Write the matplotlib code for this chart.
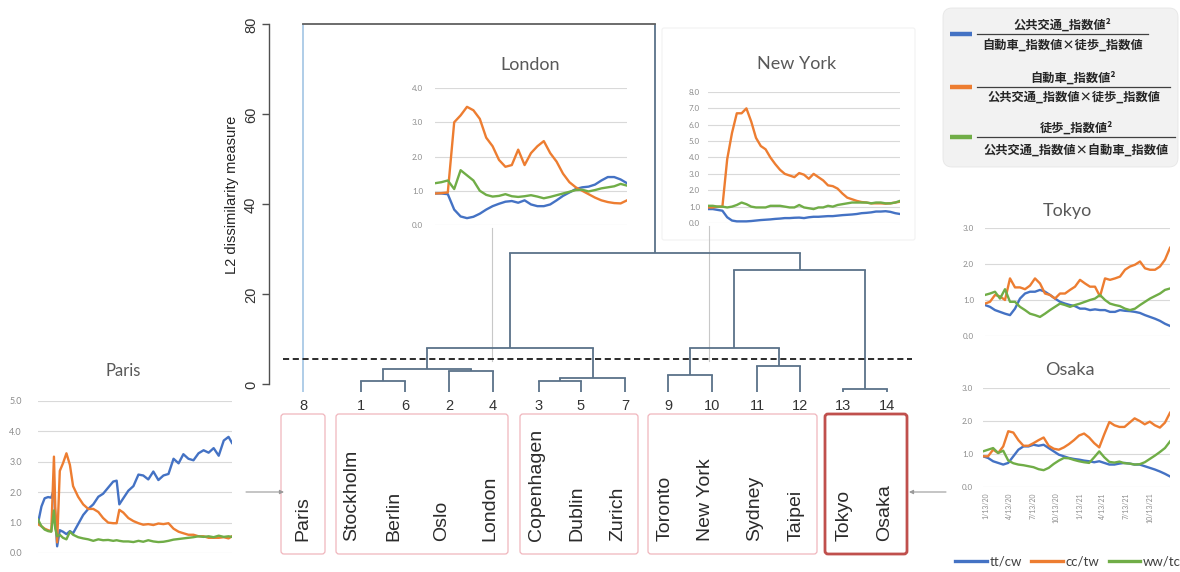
import numpy as np
import matplotlib
matplotlib.use("Agg")
import matplotlib.pyplot as plt
from matplotlib.patches import FancyBboxPatch
from matplotlib.lines import Line2D

# ---------------- data ----------------
leaf_labels = ['8', '1', '6', '2', '4', '3', '5', '7', '9', '10', '11', '12', '13', '14']
cities = ['Paris', 'Stockholm', 'Berlin', 'Oslo', 'London', 'Copenhagen', 'Dublin', 'Zurich',
          'Toronto', 'New York', 'Sydney', 'Taipei', 'Tokyo', 'Osaka']
# (child a, child b, merge height); ints refer to earlier merges
merges = [('1', '6', 0.85), ('3', '5', 0.85), ('13', '14', -1.0), (1, '7', 1.35),
          ('9', '10', 2.2), ('2', '4', 3.05), (0, 5, 3.5), ('11', '12', 4.1),
          (6, 3, 8.05), (4, 7, 8.1), (9, 2, 25.4), (8, 10, 29.15), ('8', 11, 80.0)]
cut_height = 5.75
leaf_floor = -1.65
y_ticks = [0, 20, 40, 60, 80]

series_names = ['tt/cw', 'cc/tw', 'ww/tc']

lon_tt = [0.92, 0.92, 0.90, 0.45, 0.25, 0.20, 0.24, 0.33, 0.45, 0.55, 0.62, 0.68, 0.70, 0.65, 0.72, 0.60,
          0.55, 0.55, 0.60, 0.72, 0.85, 0.95, 1.05, 1.10, 1.12, 1.18, 1.30, 1.40, 1.40, 1.33, 1.22]
lon_cc = [0.92, 0.93, 0.95, 3.00, 3.20, 3.45, 3.35, 3.10, 2.55, 2.30, 1.90, 1.70, 1.75, 2.20, 1.75, 2.10,
          2.30, 2.45, 2.10, 1.85, 1.50, 1.25, 1.10, 1.00, 0.90, 0.80, 0.72, 0.67, 0.64, 0.63, 0.72]
lon_ww = [1.22, 1.25, 1.30, 1.05, 1.60, 1.45, 1.30, 1.00, 0.88, 0.83, 0.85, 0.90, 0.84, 0.82, 0.84, 0.87,
          0.83, 0.78, 0.82, 0.87, 0.92, 0.97, 1.02, 1.03, 0.98, 1.02, 1.07, 1.10, 1.13, 1.20, 1.15]

ny_tt = [0.85, 0.85, 0.80, 0.75, 0.35, 0.15, 0.10, 0.10, 0.10, 0.12, 0.15, 0.18, 0.20, 0.22, 0.25, 0.27,
         0.30, 0.30, 0.32, 0.33, 0.30, 0.35, 0.38, 0.38, 0.40, 0.42, 0.42, 0.45, 0.48, 0.50, 0.52, 0.55,
         0.60, 0.62, 0.65, 0.70, 0.70, 0.72, 0.68, 0.60, 0.55]
ny_cc = [0.95, 0.95, 1.00, 1.00, 3.90, 5.50, 6.70, 6.70, 7.00, 6.20, 5.20, 4.70, 4.50, 4.00, 3.60, 3.25,
         3.00, 2.90, 2.80, 3.05, 2.95, 2.70, 3.00, 2.80, 2.60, 2.30, 2.25, 2.10, 1.80, 1.55, 1.45, 1.35,
         1.28, 1.25, 1.20, 1.20, 1.20, 1.18, 1.20, 1.25, 1.30]
ny_ww = [1.05, 1.05, 1.00, 1.00, 0.95, 1.00, 1.10, 1.25, 1.15, 1.00, 0.95, 0.95, 0.95, 1.05, 1.05, 1.05,
         1.00, 0.95, 0.95, 1.10, 0.95, 0.90, 0.85, 0.95, 0.95, 1.05, 1.00, 1.10, 1.15, 1.20, 1.25, 1.25,
         1.25, 1.25, 1.20, 1.25, 1.25, 1.20, 1.20, 1.25, 1.35]

tky_tt = [0.86, 0.81, 0.72, 0.67, 0.62, 0.58, 0.76, 1.04, 1.18, 1.23, 1.23, 1.28, 1.23, 1.14, 1.04, 0.95,
          0.90, 0.86, 0.83, 0.76, 0.76, 0.72, 0.74, 0.72, 0.72, 0.67, 0.67, 0.72, 0.70, 0.69, 0.67, 0.64,
          0.58, 0.53, 0.48, 0.42, 0.34, 0.28]
tky_cc = [0.90, 0.95, 1.14, 1.10, 1.00, 1.60, 1.35, 1.35, 1.30, 1.40, 1.60, 1.46, 1.18, 1.14, 1.04, 1.18,
          1.18, 1.28, 1.37, 1.56, 1.46, 1.37, 1.37, 1.10, 1.60, 1.56, 1.60, 1.65, 1.84, 1.93, 1.98, 2.07,
          1.88, 1.84, 1.84, 1.93, 2.12, 2.45]
tky_ww = [1.14, 1.18, 1.23, 1.04, 1.30, 0.95, 0.95, 0.81, 0.72, 0.62, 0.58, 0.53, 0.62, 0.72, 0.81, 0.90,
          0.86, 0.81, 0.86, 0.90, 0.95, 1.00, 1.04, 1.14, 1.00, 0.90, 0.86, 0.83, 0.76, 0.72, 0.76, 0.86,
          0.95, 1.04, 1.11, 1.18, 1.28, 1.32]

osk_tt = [0.93, 0.88, 0.78, 0.73, 0.68, 0.73, 0.93, 1.13, 1.23, 1.23, 1.28, 1.25, 1.28, 1.18, 1.08, 0.98,
          0.93, 0.88, 0.85, 0.83, 0.80, 0.78, 0.75, 0.78, 0.73, 0.68, 0.68, 0.71, 0.73, 0.71, 0.68, 0.68,
          0.63, 0.58, 0.53, 0.47, 0.40, 0.32]
osk_cc = [0.93, 0.93, 1.13, 1.03, 1.23, 1.69, 1.65, 1.42, 1.25, 1.25, 1.33, 1.42, 1.50, 1.25, 1.16, 1.13,
          1.20, 1.30, 1.42, 1.56, 1.62, 1.50, 1.33, 1.20, 1.60, 1.97, 1.87, 1.82, 1.82, 1.95, 2.08, 2.00,
          1.90, 1.98, 1.87, 1.80, 1.95, 2.25]
osk_ww = [1.08, 1.13, 1.18, 1.03, 1.10, 0.80, 0.72, 0.68, 0.66, 0.63, 0.60, 0.54, 0.51, 0.58, 0.70, 0.80,
          0.88, 0.87, 0.82, 0.78, 0.75, 0.73, 0.90, 1.08, 0.90, 0.76, 0.74, 0.77, 0.72, 0.71, 0.68, 0.69,
          0.75, 0.85, 0.95, 1.06, 1.18, 1.38]

par_days = [0, 13, 25, 38, 50, 60, 65, 72, 82, 94, 107, 120, 132, 151, 170, 189, 208, 227, 245, 264,
            283, 296, 306, 321, 340, 359, 378, 396, 415, 434, 453, 472, 491, 510, 529, 547, 566, 585,
            604, 623, 642, 661, 680, 699, 717, 730]
par_tt = [0.98, 1.53, 1.80, 1.84, 1.82, 2.10, 1.20, 0.22, 0.75, 0.70, 0.62, 0.72, 0.65, 0.95, 1.25, 1.45,
          1.60, 1.85, 1.95, 2.15, 2.35, 2.38, 1.60, 1.80, 2.05, 2.20, 2.58, 2.55, 2.42, 2.68, 2.40, 2.55,
          2.60, 3.10, 2.95, 3.25, 3.10, 3.05, 3.28, 3.38, 3.30, 3.45, 3.20, 3.70, 3.82, 3.62]
par_cc = [0.95, 0.88, 0.80, 0.75, 0.72, 3.17, 1.50, 0.35, 2.70, 2.95, 3.28, 2.90, 2.20, 1.85, 1.60, 1.45,
          1.45, 1.35, 1.15, 1.00, 0.98, 0.98, 1.42, 1.33, 1.15, 1.05, 0.98, 0.93, 0.95, 0.92, 0.97, 0.95,
          0.98, 0.80, 0.70, 0.65, 0.60, 0.60, 0.55, 0.55, 0.50, 0.50, 0.50, 0.52, 0.48, 0.55]
par_ww = [1.10, 0.88, 0.77, 0.72, 0.70, 1.40, 0.80, 0.55, 0.60, 0.50, 0.45, 0.70, 0.60, 0.52, 0.48, 0.45,
          0.40, 0.45, 0.42, 0.43, 0.40, 0.42, 0.40, 0.38, 0.38, 0.36, 0.40, 0.37, 0.42, 0.38, 0.36, 0.37,
          0.40, 0.44, 0.46, 0.48, 0.50, 0.52, 0.55, 0.53, 0.55, 0.52, 0.57, 0.53, 0.55, 0.53]

date_ticks = [12, 103, 194, 286, 378, 468, 559, 651]
date_labels = ['1/13/20', '4/13/20', '7/13/20', '10/13/20', '1/13/21', '4/13/21', '7/13/21', '10/13/21']

legend_num = ['公共交通_指数値²', '自動車_指数値²', '徒歩_指数値²']
legend_den = ['自動車_指数値×徒歩_指数値', '公共交通_指数値×徒歩_指数値', '公共交通_指数値×自動車_指数値']

# ---------------- layout helpers (pixel space) ----------------
W, H = 1180, 572
fig = plt.figure(figsize=(W / 100, H / 100), dpi=100)
fig.patch.set_facecolor('white')


def rect(x0, y0, x1, y1):
    return [x0 / W, 1 - y1 / H, (x1 - x0) / W, (y1 - y0) / H]


LINE_COLORS = ['#4472c4', '#ed7d31', '#70ad47']
SANS = ['Liberation Sans', 'DejaVu Sans']
CJK = ['Noto Sans CJK JP', 'DejaVu Sans']
TITLE_FONT = ['Lato', 'DejaVu Sans']

# overlay in pixel coordinates for frames, arrows and connectors
ov = fig.add_axes([0, 0, 1, 1], zorder=0)
ov.set_xlim(0, W)
ov.set_ylim(H, 0)
ov.axis('off')
ov.patch.set_alpha(0)

# ---------------- dendrogram ----------------
leaf_x = [303, 361, 405, 449, 493, 539, 581, 625, 668, 712, 757, 800, 843, 887]
dax = fig.add_axes(rect(269, 20, 925, 400), zorder=2)
dax.patch.set_alpha(0)
dax.set_xlim(269, 925)
dax.set_ylim(-3.45, 81.0)
for s in ['top', 'right', 'bottom']:
    dax.spines[s].set_visible(False)
dax.spines['left'].set_bounds(0, 80)
dax.spines['left'].set_color('#505050')
dax.spines['left'].set_linewidth(1.0)
dax.set_xticks([])
dax.set_yticks(y_ticks)
dax.set_yticklabels([str(v) for v in y_ticks], rotation=90, va='center',
                    fontfamily=SANS, fontsize=10.5, color='#333333')
dax.tick_params(axis='y', length=5, width=1.0, color='#505050', pad=3)

BRANCH = '#5a7289'
LEAF8 = '#a9c9e6'
pos = {lab: (x, leaf_floor) for lab, x in zip(leaf_labels, leaf_x)}
nodes = []
for a, b, h in merges:
    ca = pos[a] if isinstance(a, str) else nodes[a]
    cb = pos[b] if isinstance(b, str) else nodes[b]
    for child, c in ((a, ca), (b, cb)):
        col = LEAF8 if child == '8' else BRANCH
        dax.plot([c[0], c[0]], [c[1], h], color=col, lw=1.3, solid_capstyle='butt')
    dax.plot([ca[0], cb[0]], [h, h], color=BRANCH if h < 70 else '#606060', lw=1.3)
    nodes.append(((ca[0] + cb[0]) / 2, h))

dax.plot([283, 912], [cut_height, cut_height], color='#1a1a1a', lw=1.3,
         dashes=(3.4, 2.0))

for lab, x in zip(leaf_labels, leaf_x):
    fig.text(x / W, 1 - 406 / H, lab, ha='center', va='center',
             fontsize=10.5, family=SANS, color='#333333')

fig.text(232 / W, 1 - 195 / H, 'L2 dissimilarity measure', rotation=90,
         ha='center', va='center', fontsize=10.5, family=SANS, color='#222222')

# ---------------- city label frames ----------------
frames = [(281, 325, False), (336, 508, False), (520, 638, False), (648, 817, False), (825, 907, True)]
for x0, x1, strong in frames:
    ov.add_patch(FancyBboxPatch((x0, 414), x1 - x0, 140,
                                boxstyle='round,pad=0,rounding_size=3',
                                fc='none', ec='#c0504d' if strong else '#f0b6bd',
                                lw=2.0 if strong else 0.9, zorder=1))
city_x = [303, 352, 394, 442, 490, 536, 577, 618, 665, 706, 755, 796, 844, 885]
for name, x in zip(cities, city_x):
    fig.text(x / W, 1 - 541 / H, name, rotation=90, ha='center', va='bottom',
             fontsize=14, family=SANS, color='#2b2b2b')

# arrows linking the side charts to their frames
ov.annotate('', xy=(284, 492), xytext=(246, 492),
            arrowprops=dict(arrowstyle='-|>', color='#9a9a9a', lw=0.8,
                            mutation_scale=6, shrinkA=0, shrinkB=0))
ov.annotate('', xy=(909, 492), xytext=(946, 492),
            arrowprops=dict(arrowstyle='-|>', color='#9a9a9a', lw=0.8,
                            mutation_scale=6, shrinkA=0, shrinkB=0))
# connectors from the inset charts down to their leaves
ov.plot([492, 492], [228, 361], color='#c8c8c8', lw=0.8, zorder=1)
ov.plot([709, 709], [226, 361], color='#c8c8c8', lw=0.8, zorder=1)
ov.add_patch(FancyBboxPatch((662, 28), 253, 212, boxstyle='round,pad=0,rounding_size=2',
                            fc='none', ec='#f2f2f2', lw=0.8, zorder=0))


# ---------------- small time-series charts ----------------
def mini_chart(box, data, ymax, title, title_xy, title_size, tick_size, pad_px, days=None):
    ax = fig.add_axes(rect(*box), zorder=3)
    ax.patch.set_alpha(0)
    for vals, col in zip(data, LINE_COLORS):
        t = days if days is not None else np.linspace(0, 730, len(vals))
        ax.plot(t, vals, color=col, lw=1.7, solid_joinstyle='round')
    ax.set_xlim(0, 730)
    ax.set_ylim(0, ymax)
    ax.set_yticks(range(ymax + 1))
    ax.set_yticklabels([f'{v:.1f}' for v in range(ymax + 1)], fontsize=tick_size,
                       color='#8c8c8c', family=TITLE_FONT)
    ax.tick_params(axis='y', length=0, pad=pad_px * 0.72)
    ax.set_xticks([])
    ax.grid(axis='y', color='#d9d9d9', lw=0.8)
    ax.set_axisbelow(True)
    for s in ax.spines.values():
        s.set_visible(False)
    fig.text(title_xy[0] / W, 1 - title_xy[1] / H, title, ha='center', va='center',
             fontsize=title_size, family=TITLE_FONT, color='#595959')
    return ax


mini_chart((435, 88, 627, 225), [lon_tt, lon_cc, lon_ww], 4, 'London', (530, 65), 13, 5.8, 12)
mini_chart((708, 92, 900, 223), [ny_tt, ny_cc, ny_ww], 8, 'New York', (797, 64), 13, 5.8, 8)
mini_chart((985, 228, 1170, 336), [tky_tt, tky_cc, tky_ww], 3, 'Tokyo', (1067, 211), 13, 5.8, 11)
osk = mini_chart((983, 388, 1170, 487), [osk_tt, osk_cc, osk_ww], 3, 'Osaka', (1070, 370), 13, 5.8, 10)
mini_chart((38, 401, 232, 553), [par_tt, par_cc, par_ww], 5, 'Paris', (123, 371), 12, 6.5, 16,
           days=par_days)

osk.set_xticks(date_ticks)
osk.set_xticklabels(date_labels, rotation=90, fontsize=5, color='#8c8c8c', family=TITLE_FONT)
osk.tick_params(axis='x', length=0, pad=4)

handles = [Line2D([], [], color=c, lw=2.4) for c in LINE_COLORS]
fig.legend(handles, series_names, loc='center', bbox_to_anchor=(1068 / W, 1 - 562 / H),
           ncol=3, frameon=False, handlelength=2.4, handletextpad=0.2,
           columnspacing=0.7, labelcolor='#404040', prop={'family': TITLE_FONT, 'size': 9.5})

# ---------------- formula legend ----------------
ov.add_patch(FancyBboxPatch((943, 8), 235, 159, boxstyle='round,pad=0,rounding_size=9',
                            fc='#f2f2f2', ec='#e6e6e6', lw=0.6, zorder=1))
rows = [(25, 34, 45, 977, 1148), (78, 87, 97, 977, 1170), (128, 137, 150, 977, 1175)]
for (yn, yb, yd, bx0, bx1), num, den, col in zip(rows, legend_num, legend_den, LINE_COLORS):
    ov.plot([950, 972], [yb, yb], color=col, lw=3.2, solid_capstyle='butt', zorder=2)
    ov.plot([bx0, bx1], [yb, yb], color='#404040', lw=0.9, zorder=2)
    cx = (bx0 + bx1) / 2
    ov.text(cx, yn, num, ha='center', va='center', fontsize=8.8, family=CJK,
            fontweight='bold', color='#262626', zorder=2)
    ov.text(cx, yd, den, ha='center', va='center', fontsize=8.8, family=CJK,
            fontweight='bold', color='#262626', zorder=2)

fig.savefig('out.png', dpi=100, facecolor='white')
